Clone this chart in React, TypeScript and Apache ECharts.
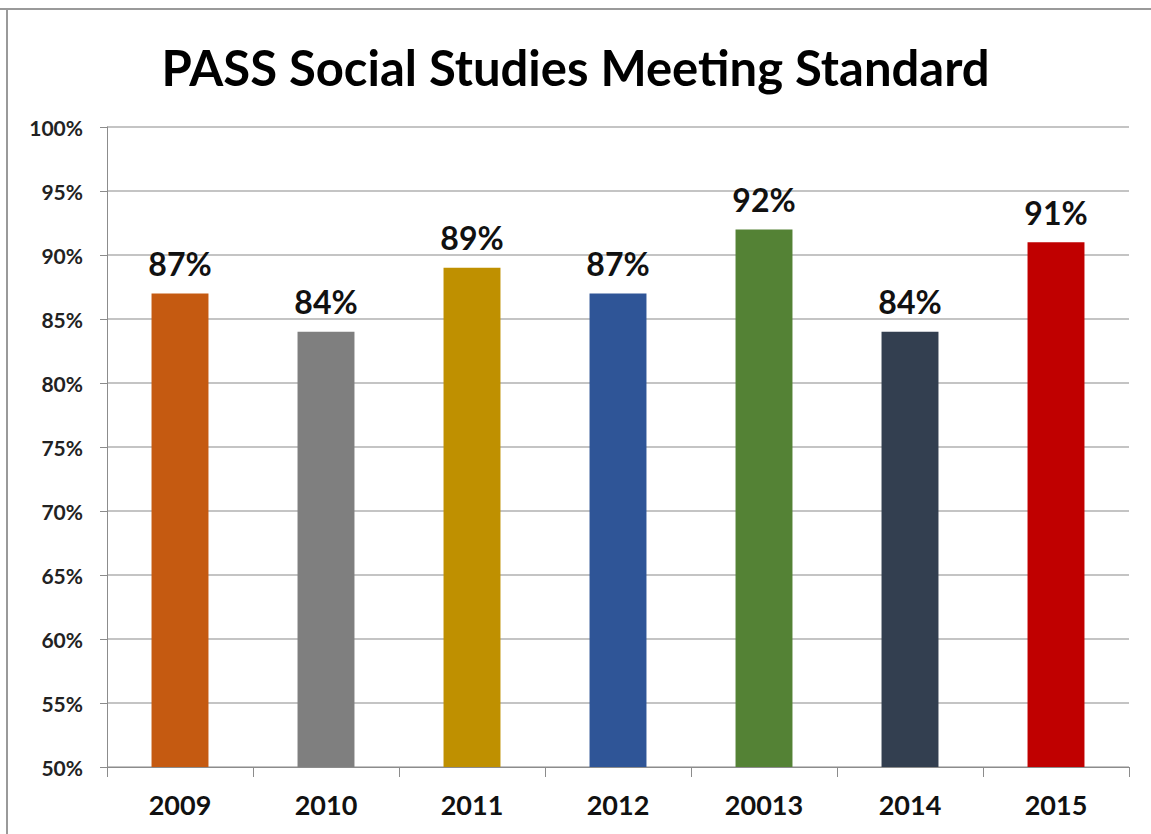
import React, { useEffect, useRef } from "react";
import * as echarts from "echarts";

const categories = ["2009", "2010", "2011", "2012", "20013", "2014", "2015"];
const values = [87, 84, 89, 87, 92, 84, 91];
const barColors = ["#C55A11", "#7F7F7F", "#BF9000", "#2F5597", "#548235", "#333F50", "#C00000"];
const yTicks = { min: 50, max: 100, interval: 5 };
const titleText = "PASS Social Studies Meeting Standard";

const FONT = "Lato, 'Open Sans', sans-serif";

export default function App() {
  const ref = useRef<HTMLDivElement>(null);
  useEffect(() => {
    if (!ref.current) return;
    const chart = echarts.init(ref.current, null, { renderer: "svg" });
    chart.setOption({
      animation: false,
      backgroundColor: "#ffffff",
      title: {
        text: titleText,
        left: "center",
        top: 37,
        textStyle: { fontFamily: FONT, fontSize: 49, fontWeight: "bold", color: "#000" },
      },
      graphic: [
        { type: "line", shape: { x1: 0, y1: 9, x2: 1151, y2: 9 }, style: { stroke: "#9a9a9a", lineWidth: 2 } },
        { type: "line", shape: { x1: 7, y1: 9, x2: 7, y2: 834 }, style: { stroke: "#9a9a9a", lineWidth: 2 } },
      ],
      grid: { left: 107, right: 22, top: 127, bottom: 67, containLabel: false },
      xAxis: {
        type: "category",
        data: categories,
        axisLine: { lineStyle: { color: "#8c8c8c", width: 1 } },
        axisTick: { show: true, length: 10, lineStyle: { color: "#8c8c8c" } },
        axisLabel: { fontFamily: FONT, fontSize: 27, fontWeight: "bold", color: "#111", margin: 24 },
      },
      yAxis: {
        type: "value",
        min: yTicks.min,
        max: yTicks.max,
        interval: yTicks.interval,
        axisLine: { show: true, lineStyle: { color: "#8c8c8c", width: 1 } },
        axisTick: { show: true, length: 7, lineStyle: { color: "#8c8c8c" } },
        splitLine: { lineStyle: { color: "#b0b0b0", width: 1.5 } },
        axisLabel: {
          fontFamily: FONT,
          fontSize: 21,
          fontWeight: "bold",
          color: "#222",
          margin: 24,
          formatter: (v: number) => v + "%",
        },
      },
      series: [
        {
          type: "bar",
          barWidth: "39%",
          data: values.map((v, i) => ({ value: v, itemStyle: { color: barColors[i] } })),
          label: {
            show: true,
            position: "top",
            distance: 14,
            formatter: (p: any) => p.value + "%",
            fontFamily: FONT,
            fontSize: 32,
            fontWeight: "bold",
            color: "#111",
          },
        },
      ],
    });
    return () => chart.dispose();
  }, []);
  return <div ref={ref} style={{ position: "absolute", left: 0, top: 0, width: 1151, height: 834 }} />;
}
